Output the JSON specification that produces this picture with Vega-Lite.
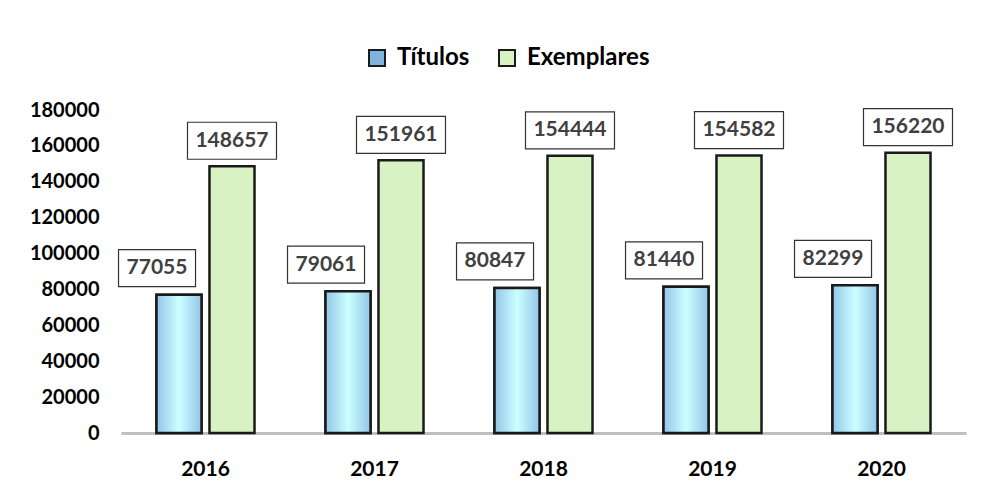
{
  "$schema": "https://vega.github.io/schema/vega-lite/v6.json",
  "width": 845,
  "height": 323,
  "autosize": {"type": "none"},
  "padding": {"left": 121, "top": 110, "right": 18, "bottom": 60},
  "background": "white",
  "config": {
    "view": {"stroke": null},
    "font": "Lato"
  },
  "data": {
    "values": [
      {"year": "2016", "serie": "Títulos", "value": 77055},
      {"year": "2016", "serie": "Exemplares", "value": 148657},
      {"year": "2017", "serie": "Títulos", "value": 79061},
      {"year": "2017", "serie": "Exemplares", "value": 151961},
      {"year": "2018", "serie": "Títulos", "value": 80847},
      {"year": "2018", "serie": "Exemplares", "value": 154444},
      {"year": "2019", "serie": "Títulos", "value": 81440},
      {"year": "2019", "serie": "Exemplares", "value": 154582},
      {"year": "2020", "serie": "Títulos", "value": 82299},
      {"year": "2020", "serie": "Exemplares", "value": 156220}
    ]
  },
  "encoding": {
    "x": {
      "field": "year", "type": "nominal",
      "scale": {"paddingInner": 0.42, "paddingOuter": 0.21},
      "axis": {
        "title": null, "labelAngle": 0, "ticks": false,
        "domainColor": "#BFBFBF", "domainWidth": 3,
        "labelFont": "Lato", "labelFontWeight": "bold", "labelFontSize": 21,
        "labelColor": "#000000", "labelPadding": 25
      }
    },
    "xOffset": {
      "field": "serie", "type": "nominal",
      "scale": {"domain": ["Títulos", "Exemplares"], "paddingInner": 0.15, "paddingOuter": 0}
    },
    "y": {
      "field": "value", "type": "quantitative",
      "scale": {"domain": [0, 180000], "nice": false},
      "axis": {
        "title": null, "domain": false, "ticks": false, "grid": false,
        "values": [0, 20000, 40000, 60000, 80000, 100000, 120000, 140000, 160000, 180000],
        "format": "d",
        "labelFont": "Lato", "labelFontWeight": "bold", "labelFontSize": 20,
        "labelColor": "#000000", "labelPadding": 22
      }
    }
  },
  "layer": [
    {
      "mark": {"type": "bar", "stroke": "#1a1a1a", "strokeWidth": 2.5},
      "encoding": {
        "color": {
          "field": "serie", "type": "nominal",
          "scale": {"domain": ["Títulos", "Exemplares"], "range": ["#7FB2DC", "#D9F2C4"]},
          "legend": {
            "title": null, "orient": "none", "direction": "horizontal",
            "legendX": 244, "legendY": -64,
            "symbolType": "square", "symbolSize": 256,
            "symbolStrokeColor": "#1a1a1a", "symbolStrokeWidth": 2,
            "labelFont": "Lato", "labelFontWeight": "bold", "labelFontSize": 24,
            "labelColor": "#000000", "labelOffset": 8, "columnPadding": 25
          }
        }
      }
    },
    {
      "transform": [{"filter": "datum.serie == 'Títulos'"}],
      "mark": {
        "type": "bar", "stroke": "#1a1a1a", "strokeWidth": 2.5,
        "fill": {
          "gradient": "linear", "x1": 0, "y1": 0, "x2": 1, "y2": 0,
          "stops": [
            {"offset": 0, "color": "#92C6E8"},
            {"offset": 0.5, "color": "#CCFFFF"},
            {"offset": 1, "color": "#92C6E8"}
          ]
        }
      }
    },
    {
      "transform": [{"filter": "datum.serie == 'Títulos'"}],
      "mark": {
        "type": "point", "filled": true, "fill": "white", "opacity": 1,
        "stroke": "#333333", "strokeWidth": 1.2,
        "shape": "M-1.571,-1.169H0.429V-0.208H-1.571Z",
        "size": 5929
      }
    },
    {
      "transform": [{"filter": "datum.serie == 'Exemplares'"}],
      "mark": {
        "type": "point", "filled": true, "fill": "white", "opacity": 1,
        "stroke": "#333333", "strokeWidth": 1.2,
        "shape": "M-1,-0.989H1V-0.157H-1Z",
        "size": 7921
      }
    },
    {
      "transform": [{"filter": "datum.serie == 'Títulos'"}],
      "mark": {
        "type": "text", "font": "Lato", "fontWeight": "bold", "fontSize": 21,
        "color": "#404040", "baseline": "middle", "align": "center",
        "dx": -22, "dy": -26.5
      },
      "encoding": {"text": {"field": "value", "type": "quantitative", "format": "d"}}
    },
    {
      "transform": [{"filter": "datum.serie == 'Exemplares'"}],
      "mark": {
        "type": "text", "font": "Lato", "fontWeight": "bold", "fontSize": 21,
        "color": "#404040", "baseline": "middle", "align": "center",
        "dy": -25.5
      },
      "encoding": {"text": {"field": "value", "type": "quantitative", "format": "d"}}
    }
  ]
}
